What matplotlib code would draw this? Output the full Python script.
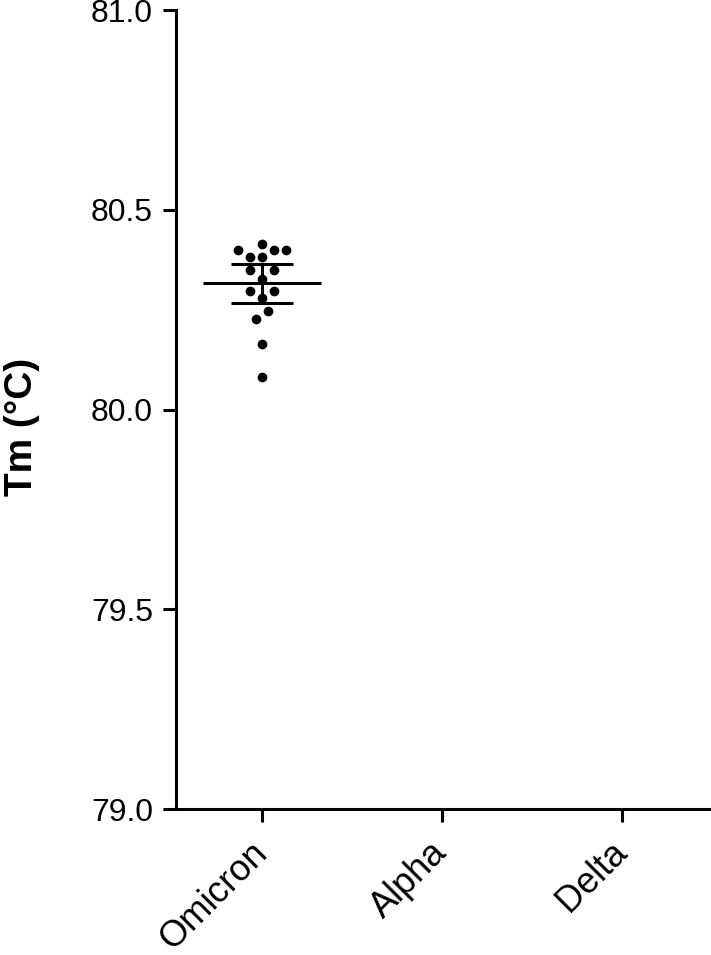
import matplotlib
matplotlib.use("Agg")
import matplotlib.pyplot as plt
import numpy as np

plt.rcParams['font.family'] = ['Liberation Sans', 'DejaVu Sans']

categories = ["Omicron", "Alpha", "Delta"]
omicron_tm = [80.414, 80.399, 80.399, 80.399, 80.381, 80.381, 80.348, 80.349,
              80.326, 80.297, 80.297, 80.278, 80.247, 80.227, 80.164, 80.081]
omicron_jitter = [0.0, -0.133, 0.067, 0.133, -0.067, 0.0, -0.067, 0.067,
                  0.0, -0.067, 0.067, 0.0, 0.033, -0.033, 0.0, 0.0]
omicron_mean = 80.316
omicron_err_low = 80.267
omicron_err_high = 80.364
yticks = [79.0, 79.5, 80.0, 80.5, 81.0]

fig = plt.figure(figsize=(7.11, 9.55), dpi=100)
ax = fig.add_axes([176/711, 1 - 809/955, (711-176)/711, (809-10)/955])

x0 = 0
xs = x0 + np.array(omicron_jitter)
ax.plot(xs, omicron_tm, 'o', color='black', markersize=7, markeredgewidth=0, clip_on=False, zorder=3)
ax.hlines(omicron_mean, x0 - 0.33, x0 + 0.33, color='black', linewidth=2.2, zorder=4)
ax.hlines([omicron_err_low, omicron_err_high], x0 - 0.17, x0 + 0.17, color='black', linewidth=2.2, zorder=4)
ax.vlines(x0, omicron_err_low, omicron_err_high, color='black', linewidth=2.2, zorder=4)

ax.set_xlim(-0.478, 2.495)
ax.set_ylim(79.0, 81.0)
ax.set_yticks(yticks)
ax.set_yticklabels([f"{v:.1f}" for v in yticks])
ax.set_xticks(range(len(categories)))
ax.set_xticklabels(categories, rotation=45, ha='right', va='center', rotation_mode='anchor')

for s in ['top', 'right']:
    ax.spines[s].set_visible(False)
for s in ['left', 'bottom']:
    ax.spines[s].set_linewidth(2.2)
ax.tick_params(axis='y', length=9.5, width=2.2, labelsize=23, pad=7)
ax.tick_params(axis='x', length=9.5, width=2.2, labelsize=26, pad=18)
ax.set_ylabel("Tm (°C)", fontsize=28, fontweight='bold')
ax.yaxis.set_label_coords(-0.255, 0.478)

fig.savefig("out.png", dpi=100)
